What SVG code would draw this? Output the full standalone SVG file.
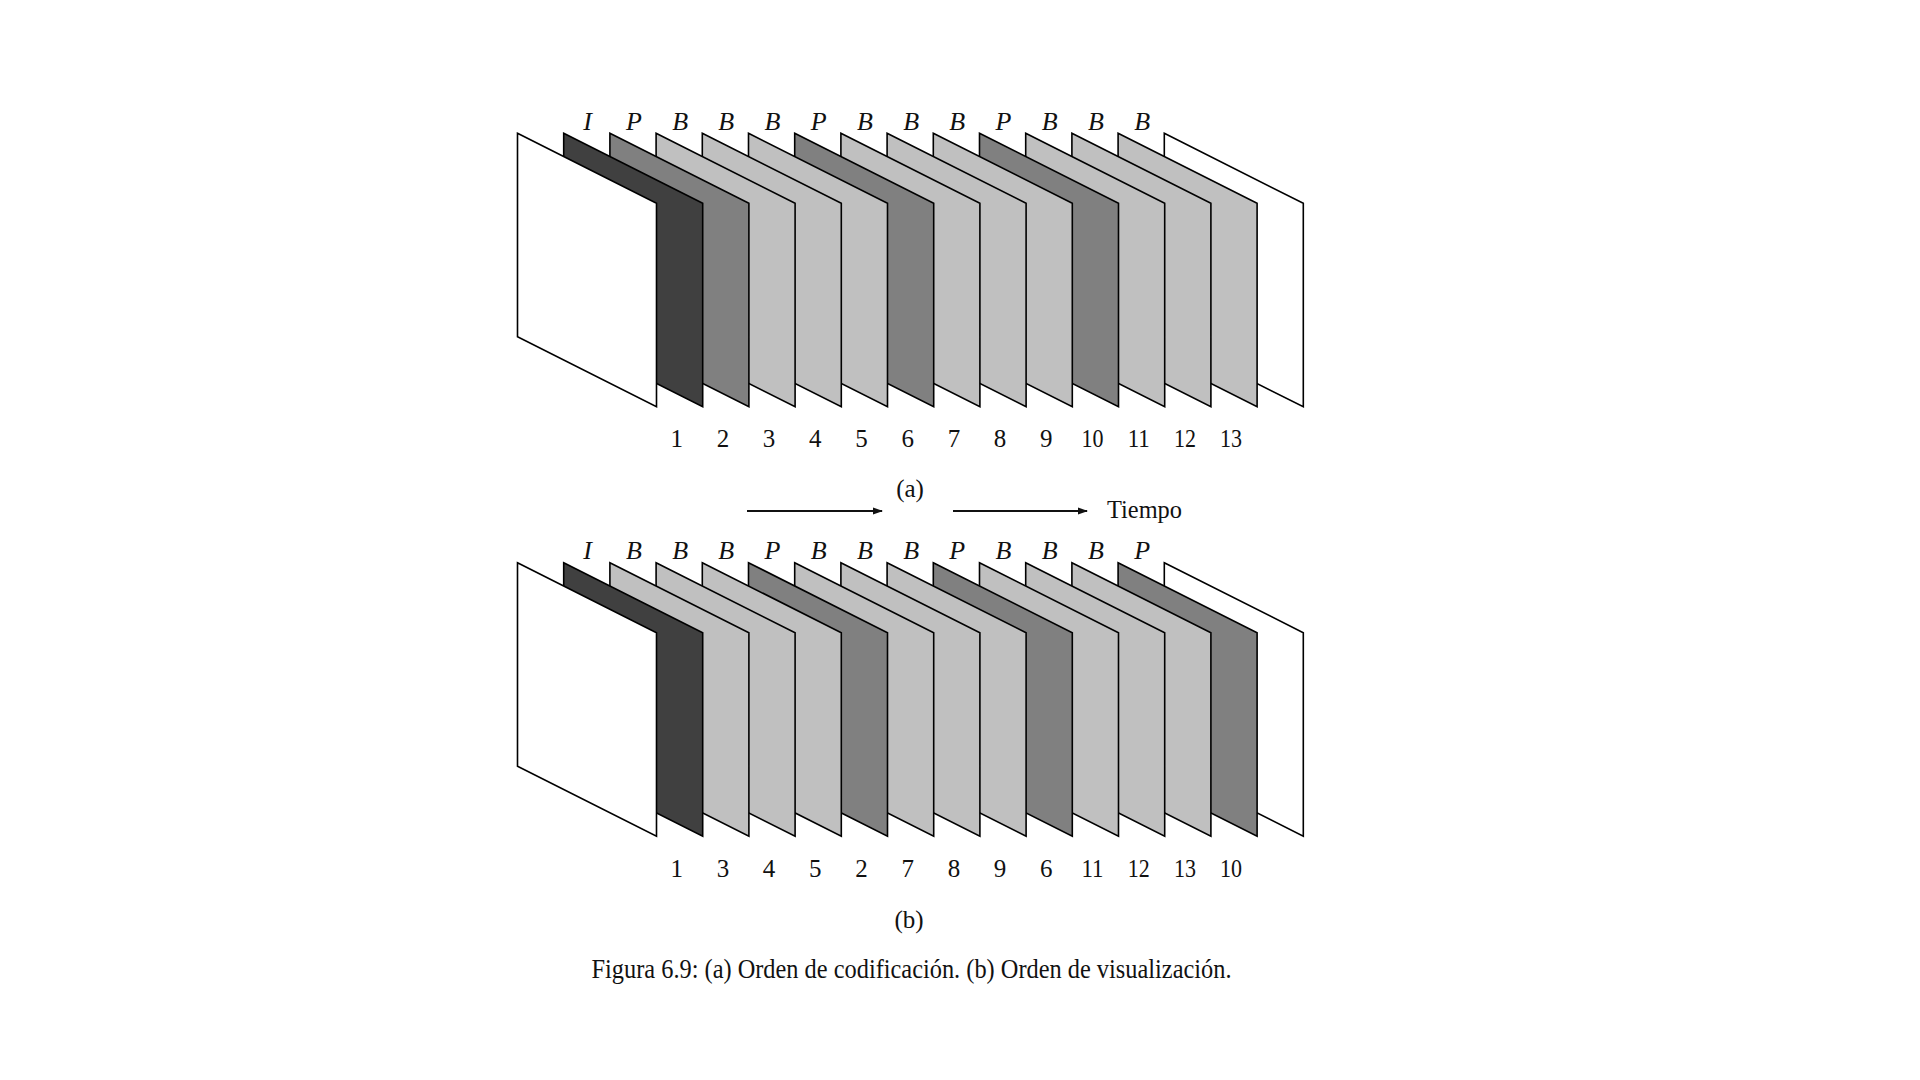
<svg xmlns="http://www.w3.org/2000/svg" width="1920" height="1080" viewBox="0 0 1920 1080">
<style>
.f{stroke:#000;stroke-width:1.6;stroke-linejoin:miter}
.w{fill:#ffffff}.d{fill:#404040}.m{fill:#808080}.l{fill:#c0c0c0}
.t{font-family:"Liberation Serif","DejaVu Serif",serif;fill:#111}
.it{font-style:italic;font-size:26px;text-anchor:middle}
.n{font-size:25px;text-anchor:middle}
.c{font-size:25px;text-anchor:middle}
.cap{font-size:27px}
.ar{stroke:#111;stroke-width:1.8;fill:none}
</style>
<defs>
<path id="fr" d="M0,0 L139,70 L139,273.5 L0,203.5 Z"/>
<marker id="ah" markerWidth="10" markerHeight="8" refX="9" refY="4" orient="auto" markerUnits="userSpaceOnUse">
<path d="M0,0.5 L10,4 L0,7.5 Z" fill="#111"/>
</marker>
</defs>
<rect width="1920" height="1080" fill="#fff"/>

<g id="panel-a">
<g id="a-f14"><use href="#fr" class="f w" x="1164.3" y="133.3"/></g>
<g id="a-f13"><use href="#fr" class="f l" x="1118.1" y="133.3"/></g>
<g id="a-f12"><use href="#fr" class="f l" x="1071.9" y="133.3"/></g>
<g id="a-f11"><use href="#fr" class="f l" x="1025.7" y="133.3"/></g>
<g id="a-f10"><use href="#fr" class="f m" x="979.5" y="133.3"/></g>
<g id="a-f9"><use href="#fr" class="f l" x="933.3" y="133.3"/></g>
<g id="a-f8"><use href="#fr" class="f l" x="887.1" y="133.3"/></g>
<g id="a-f7"><use href="#fr" class="f l" x="840.9" y="133.3"/></g>
<g id="a-f6"><use href="#fr" class="f m" x="794.7" y="133.3"/></g>
<g id="a-f5"><use href="#fr" class="f l" x="748.5" y="133.3"/></g>
<g id="a-f4"><use href="#fr" class="f l" x="702.3" y="133.3"/></g>
<g id="a-f3"><use href="#fr" class="f l" x="656.1" y="133.3"/></g>
<g id="a-f2"><use href="#fr" class="f m" x="609.9" y="133.3"/></g>
<g id="a-f1"><use href="#fr" class="f d" x="563.7" y="133.3"/></g>
<g id="a-f0"><use href="#fr" class="f w" x="517.5" y="133.3"/></g>
</g>
<g id="a-types" class="t it">
<text x="587.7" y="129.5">I</text>
<text x="633.9" y="129.5">P</text>
<text x="680.1" y="129.5">B</text>
<text x="726.3" y="129.5">B</text>
<text x="772.5" y="129.5">B</text>
<text x="818.7" y="129.5">P</text>
<text x="864.9" y="129.5">B</text>
<text x="911.1" y="129.5">B</text>
<text x="957.3" y="129.5">B</text>
<text x="1003.5" y="129.5">P</text>
<text x="1049.7" y="129.5">B</text>
<text x="1095.9" y="129.5">B</text>
<text x="1142.1" y="129.5">B</text>
</g>
<g id="a-nums" class="t n">
<text x="676.7" y="447">1</text>
<text x="722.9" y="447">2</text>
<text x="769.1" y="447">3</text>
<text x="815.3" y="447">4</text>
<text x="861.5" y="447">5</text>
<text x="907.7" y="447">6</text>
<text x="953.9" y="447">7</text>
<text x="1000.1" y="447">8</text>
<text x="1046.3" y="447">9</text>
<text x="1092.5" y="447" textLength="22" lengthAdjust="spacingAndGlyphs">10</text>
<text x="1138.7" y="447" textLength="22" lengthAdjust="spacingAndGlyphs">11</text>
<text x="1184.9" y="447" textLength="22" lengthAdjust="spacingAndGlyphs">12</text>
<text x="1231.1" y="447" textLength="22" lengthAdjust="spacingAndGlyphs">13</text>
</g>
<text id="label-a" class="t c" x="910" y="497">(a)</text>

<g id="connectors">
<line class="ar" x1="747" y1="511" x2="882" y2="511" marker-end="url(#ah)"/>
<line class="ar" x1="953" y1="511" x2="1087" y2="511" marker-end="url(#ah)"/>
</g>
<text id="tiempo" class="t" x="1107" y="517.5" font-size="26" textLength="75" lengthAdjust="spacingAndGlyphs">Tiempo</text>

<g id="panel-b">
<g id="b-f14"><use href="#fr" class="f w" x="1164.3" y="562.7"/></g>
<g id="b-f13"><use href="#fr" class="f m" x="1118.1" y="562.7"/></g>
<g id="b-f12"><use href="#fr" class="f l" x="1071.9" y="562.7"/></g>
<g id="b-f11"><use href="#fr" class="f l" x="1025.7" y="562.7"/></g>
<g id="b-f10"><use href="#fr" class="f l" x="979.5" y="562.7"/></g>
<g id="b-f9"><use href="#fr" class="f m" x="933.3" y="562.7"/></g>
<g id="b-f8"><use href="#fr" class="f l" x="887.1" y="562.7"/></g>
<g id="b-f7"><use href="#fr" class="f l" x="840.9" y="562.7"/></g>
<g id="b-f6"><use href="#fr" class="f l" x="794.7" y="562.7"/></g>
<g id="b-f5"><use href="#fr" class="f m" x="748.5" y="562.7"/></g>
<g id="b-f4"><use href="#fr" class="f l" x="702.3" y="562.7"/></g>
<g id="b-f3"><use href="#fr" class="f l" x="656.1" y="562.7"/></g>
<g id="b-f2"><use href="#fr" class="f l" x="609.9" y="562.7"/></g>
<g id="b-f1"><use href="#fr" class="f d" x="563.7" y="562.7"/></g>
<g id="b-f0"><use href="#fr" class="f w" x="517.5" y="562.7"/></g>
</g>
<g id="b-types" class="t it">
<text x="587.7" y="558.5">I</text>
<text x="633.9" y="558.5">B</text>
<text x="680.1" y="558.5">B</text>
<text x="726.3" y="558.5">B</text>
<text x="772.5" y="558.5">P</text>
<text x="818.7" y="558.5">B</text>
<text x="864.9" y="558.5">B</text>
<text x="911.1" y="558.5">B</text>
<text x="957.3" y="558.5">P</text>
<text x="1003.5" y="558.5">B</text>
<text x="1049.7" y="558.5">B</text>
<text x="1095.9" y="558.5">B</text>
<text x="1142.1" y="558.5">P</text>
</g>
<g id="b-nums" class="t n">
<text x="676.7" y="877">1</text>
<text x="722.9" y="877">3</text>
<text x="769.1" y="877">4</text>
<text x="815.3" y="877">5</text>
<text x="861.5" y="877">2</text>
<text x="907.7" y="877">7</text>
<text x="953.9" y="877">8</text>
<text x="1000.1" y="877">9</text>
<text x="1046.3" y="877">6</text>
<text x="1092.5" y="877" textLength="22" lengthAdjust="spacingAndGlyphs">11</text>
<text x="1138.7" y="877" textLength="22" lengthAdjust="spacingAndGlyphs">12</text>
<text x="1184.9" y="877" textLength="22" lengthAdjust="spacingAndGlyphs">13</text>
<text x="1231.1" y="877" textLength="22" lengthAdjust="spacingAndGlyphs">10</text>
</g>
<text id="label-b" class="t c" x="909" y="928">(b)</text>
<text id="caption" class="t cap" x="591.5" y="978" textLength="640" lengthAdjust="spacingAndGlyphs">Figura 6.9: (a) Orden de codificación. (b) Orden de visualización.</text>
</svg>
